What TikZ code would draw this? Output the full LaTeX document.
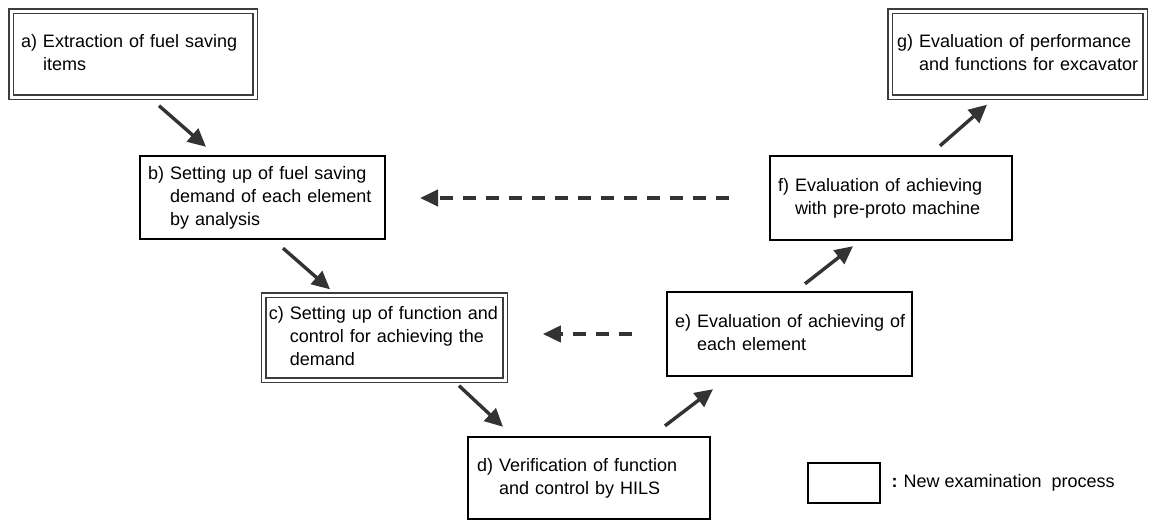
\documentclass[tikz,border=0pt]{standalone}
\usepackage{fontspec}
\setmainfont{Liberation Sans}
\usepackage{xcolor}
\usetikzlibrary{arrows.meta}
\usetikzlibrary{calc}
\usetikzlibrary{positioning}

\definecolor{arrowgray}{RGB}{51,51,51}
\definecolor{framegray}{RGB}{60,60,60}

% label with hanging indent: item letter, then the lines
\newcommand{\stepitem}[2]{\begin{tabular}{@{}l@{\ }l@{}}#1&#2\end{tabular}}

\tikzset{
	stepbox/.style={draw, line width=1.2pt, inner xsep=4pt, inner ysep=0pt, align=left, text width=#1},
	newbox/.style={draw=framegray, double, double distance=1.5pt, line width=0.7pt, inner xsep=5pt, inner ysep=0pt, align=left, text width=#1},
	flow/.style={draw=arrowgray, line width=1.7pt, -{Triangle[length=9pt,width=8.5pt]}},
	feedback/.style={draw=arrowgray, line width=2pt, dash pattern=on 6.5pt off 5pt, -{Triangle[length=9pt,width=8pt]}}
}

\begin{document}
\begin{tikzpicture}[x=0.5pt,y=-0.5pt,font=\fontsize{9}{11.5}\selectfont]
	\useasboundingbox (0,0) rectangle (1152,520);
	
	% left branch
	\node[newbox=112pt, minimum height=43pt] (extract) at (133,54) {\stepitem{a)}{Extraction of fuel saving\\&items}};
	\node[stepbox=114.3pt, minimum height=41.5pt] (demand) at (262.5,197.5) {\stepitem{b)}{Setting up of fuel saving\\&demand of each element\\&by analysis}};
	\node[newbox=115.6pt, minimum height=42.5pt, inner xsep=2.5pt] (control) at (384.5,337.5) {\stepitem{c)}{Setting up of function and\\&control for achieving the\\&demand}};
	\node[stepbox=112pt, minimum height=41pt, inner xsep=4.4pt] (hils) at (589,478) {\stepitem{d)}{Verification of function\\&and control by HILS}};
	
	% right branch
	\node[stepbox=114.5pt, minimum height=42pt] (element) at (789.5,334) {\stepitem{e)}{Evaluation of achieving of\\&each element}};
	\node[stepbox=113pt, minimum height=42pt] (machine) at (891,198) {\stepitem{f)}{Evaluation of achieving\\&with pre-proto machine}};
	\node[newbox=120.5pt, minimum height=43pt, inner xsep=3.5pt] (excavator) at (1017.5,54) {\stepitem{g)}{Evaluation of performance\\&and functions for excavator}};
	
	% legend
	\node[draw, line width=1.2pt, minimum width=36pt, minimum height=20pt] (legendbox) at (844,483) {};
	\node[right=5pt of legendbox, inner sep=0pt] (legendtext) {\textbf{:}\,\,New examination\ \ process};
	
	\draw[flow] ([shift={(26,8)}]extract.south) -- ([shift={(-56.5,-8)}]demand.north);
	\draw[flow] ([shift={(20.5,8)}]demand.south) -- ([shift={(-54.5,-5)}]control.north);
	\draw[flow] ([shift={(74.5,5)}]control.south) -- ([shift={(-86,-9)}]hils.north);
	\draw[flow] ([shift={(76,-10)}]hils.north) -- ([shift={(-76.5,12)}]element.south);
	\draw[flow] ([shift={(15.5,-7)}]element.north) -- ([shift={(-38,5)}]machine.south);
	\draw[flow] ([shift={(49,-9)}]machine.north) -- ([shift={(-30.5,7)}]excavator.south);
	
	\draw[feedback] ([xshift=-20pt]machine.west) -- ([xshift=17pt]machine.west -| demand.east);
	\draw[feedback] ([xshift=-17pt]element.west) -- ([xshift=18.5pt]element.west -| control.east);
\end{tikzpicture}
\end{document}
